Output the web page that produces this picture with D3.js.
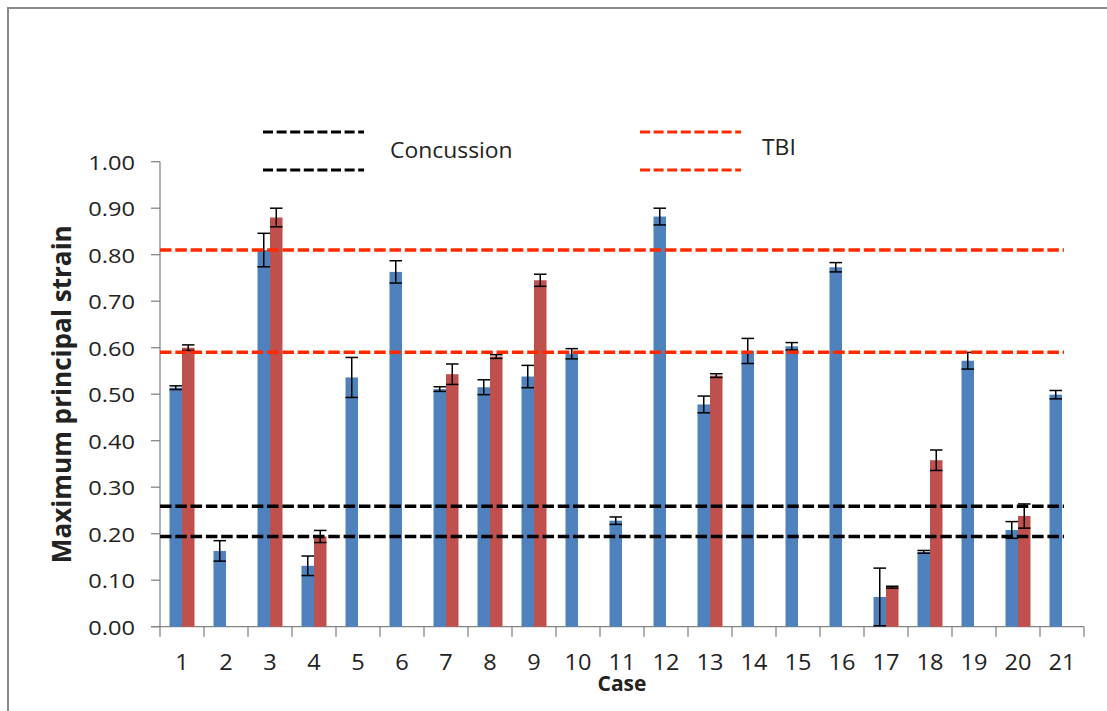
<!DOCTYPE html>
<html>
<head>
<meta charset="utf-8">
<script src="https://cdn.jsdelivr.net/npm/d3@7"></script>
<style>
    body { margin: 0; background: #fff; }
    text { font-family: "Open Sans", sans-serif; fill: #222; }
</style>
</head>
<body>
<svg id="chart" width="1107" height="711"></svg>
<script>
// Values
const cases = ["1", "2", "3", "4", "5", "6", "7", "8", "9", "10", "11",
               "12", "13", "14", "15", "16", "17", "18", "19", "20", "21"];

// blue series (mean, error)
const strainA = [0.514, 0.163, 0.810, 0.131, 0.536, 0.763, 0.511, 0.515, 0.538, 0.587, 0.228,
                 0.882, 0.478, 0.593, 0.603, 0.773, 0.064, 0.161, 0.572, 0.208, 0.499];
const errA    = [0.004, 0.022, 0.036, 0.021, 0.043, 0.024, 0.005, 0.016, 0.024, 0.011, 0.008,
                 0.018, 0.018, 0.027, 0.008, 0.010, 0.062, 0.003, 0.018, 0.018, 0.009];

// red series (mean, error), null where no bar
const strainB = [0.600, null, 0.880, 0.194, null, null, 0.543, 0.581, 0.745, null, null,
                 null, 0.540, null, null, null, 0.085, 0.358, null, 0.238, null];
const errB    = [0.006, null, 0.020, 0.013, null, null, 0.022, 0.004, 0.013, null, null,
                 null, 0.004, null, null, null, 0.002, 0.022, null, 0.026, null];

const yTicks = [0, 0.1, 0.2, 0.3, 0.4, 0.5, 0.6, 0.7, 0.8, 0.9, 1.0];

const concussionLines = [0.194, 0.259];
const tbiLines = [0.590, 0.810];

const colorA = "#4F81BD";
const colorB = "#C0504D";
const tbiColor = "#FF2A00";

// stretch text horizontally a bit, the source font is wider than what we have
function stretch(sel, k) {
    sel.each(function() {
        const w = this.getComputedTextLength();
        this.setAttribute("textLength", w * k);
        this.setAttribute("lengthAdjust", "spacingAndGlyphs");
    });
}

(function() {
    const svg = d3.select("#chart");
    const plot = { left: 160, right: 1084, top: 161.7, bottom: 626.7 };

    // outer chart border (only left and top are inside the picture)
    svg.append("rect")
        .attr("x", 8).attr("y", 8)
        .attr("width", 1200).attr("height", 800)
        .attr("fill", "none")
        .attr("stroke", "#8a8a8a")
        .attr("stroke-width", 2);

    const x0 = d3.scaleBand().domain(cases).range([plot.left, plot.right]);
    const x1 = d3.scaleBand().domain(["A", "B"])
        .range([0, x0.bandwidth()])
        .paddingInner(0)
        .paddingOuter(0.76);
    const y = d3.scaleLinear().domain([0, 1]).range([plot.bottom, plot.top]);

    // y axis
    const yAxis = svg.append("g").attr("stroke", "#868686").attr("stroke-width", 1.3);
    yAxis.append("line")
        .attr("x1", plot.left).attr("x2", plot.left)
        .attr("y1", y(1)).attr("y2", y(0));
    yAxis.selectAll(".ytick")
        .data(yTicks)
        .enter()
        .append("line")
        .attr("class", "ytick")
        .attr("x1", plot.left - 9).attr("x2", plot.left)
        .attr("y1", d => y(d)).attr("y2", d => y(d));

    const yLabels = svg.append("g").selectAll(".ylabel")
        .data(yTicks)
        .enter()
        .append("text")
        .attr("class", "ylabel")
        .attr("x", 135)
        .attr("y", d => y(d) + 8)
        .attr("text-anchor", "end")
        .attr("font-size", 20)
        .text(d => d3.format(".2f")(d));
    stretch(yLabels, 1.18);

    // x axis
    const xAxis = svg.append("g").attr("stroke", "#868686").attr("stroke-width", 1.3);
    xAxis.append("line")
        .attr("x1", plot.left - 9).attr("x2", plot.right)
        .attr("y1", y(0)).attr("y2", y(0));
    xAxis.selectAll(".xtick")
        .data(cases.concat(["end"]))
        .enter()
        .append("line")
        .attr("class", "xtick")
        .attr("x1", d => d === "end" ? plot.right : x0(d))
        .attr("x2", d => d === "end" ? plot.right : x0(d))
        .attr("y1", y(0)).attr("y2", y(0) + 10);

    const xLabels = svg.append("g").selectAll(".xlabel")
        .data(cases)
        .enter()
        .append("text")
        .attr("class", "xlabel")
        .attr("x", d => x0(d) + x0.bandwidth() / 2)
        .attr("y", 670)
        .attr("text-anchor", "middle")
        .attr("font-size", 21)
        .text(d => d);
    stretch(xLabels, 1.12);

    // bars
    const rows = cases.map((c, i) => ({
        c: c,
        vals: [
            { key: "A", v: strainA[i], e: errA[i], color: colorA },
            { key: "B", v: strainB[i], e: errB[i], color: colorB }
        ].filter(d => d.v !== null)
    }));

    const groups = svg.append("g").selectAll(".case")
        .data(rows)
        .enter()
        .append("g")
        .attr("class", "case")
        .attr("transform", d => "translate(" + x0(d.c) + ",0)");

    groups.selectAll(".bar")
        .data(d => d.vals)
        .enter()
        .append("rect")
        .attr("class", "bar")
        .attr("x", d => x1(d.key))
        .attr("width", x1.bandwidth())
        .attr("y", d => y(d.v))
        .attr("height", d => y(0) - y(d.v))
        .attr("fill", d => d.color);

    // threshold lines (drawn over the bars, under the error bars)
    const lineEnd = plot.right - 20;
    const thresholds = concussionLines.map(v => ({ v: v, color: "#000" }))
        .concat(tbiLines.map(v => ({ v: v, color: tbiColor })));
    svg.append("g").selectAll(".thr")
        .data(thresholds)
        .enter()
        .append("line")
        .attr("class", "thr")
        .attr("x1", plot.left).attr("x2", lineEnd)
        .attr("y1", d => y(d.v)).attr("y2", d => y(d.v))
        .attr("stroke", d => d.color)
        .attr("stroke-width", 3.5)
        .attr("stroke-dasharray", "11.5,3.8");

    // error bars
    const eb = groups.selectAll(".err")
        .data(d => d.vals)
        .enter()
        .append("g")
        .attr("class", "err")
        .attr("stroke", "#000")
        .attr("stroke-width", 1.5);
    const cx = d => x1(d.key) + x1.bandwidth() / 2;
    eb.append("line")
        .attr("x1", cx).attr("x2", cx)
        .attr("y1", d => y(d.v + d.e)).attr("y2", d => y(Math.max(0, d.v - d.e)));
    eb.append("line")
        .attr("x1", d => x1(d.key)).attr("x2", d => x1(d.key) + x1.bandwidth())
        .attr("y1", d => y(d.v + d.e)).attr("y2", d => y(d.v + d.e));
    eb.append("line")
        .attr("x1", d => x1(d.key)).attr("x2", d => x1(d.key) + x1.bandwidth())
        .attr("y1", d => y(Math.max(0, d.v - d.e))).attr("y2", d => y(Math.max(0, d.v - d.e)));

    // axis titles
    const yTitle = svg.append("text")
        .attr("transform", "translate(71," + (plot.top + plot.bottom) / 2 + ") rotate(-90)")
        .attr("text-anchor", "middle")
        .attr("font-size", 27)
        .attr("font-weight", "bold")
        .text("Maximum principal strain");
    yTitle.attr("textLength", 338).attr("lengthAdjust", "spacingAndGlyphs");

    svg.append("text")
        .attr("x", (plot.left + plot.right) / 2)
        .attr("y", 691)
        .attr("text-anchor", "middle")
        .attr("font-size", 21)
        .attr("font-weight", "bold")
        .text("Case");

    // legend
    const legend = [
        { label: "Concussion", color: "#000", x: 263, tx: 390, ty: 158 },
        { label: "TBI", color: tbiColor, x: 640, tx: 762, ty: 155 }
    ];
    const lg = svg.append("g").selectAll(".legend")
        .data(legend)
        .enter()
        .append("g")
        .attr("class", "legend");
    [132, 170].forEach(ly => {
        lg.append("line")
            .attr("x1", d => d.x).attr("x2", d => d.x + 101)
            .attr("y1", ly).attr("y2", ly)
            .attr("stroke", d => d.color)
            .attr("stroke-width", 3)
            .attr("stroke-dasharray", "10,3.6");
    });
    const lt = lg.append("text")
        .attr("x", d => d.tx)
        .attr("y", d => d.ty)
        .attr("font-size", 21)
        .text(d => d.label);
    stretch(lt, 1.09);
})();
</script>
</body>
</html>
